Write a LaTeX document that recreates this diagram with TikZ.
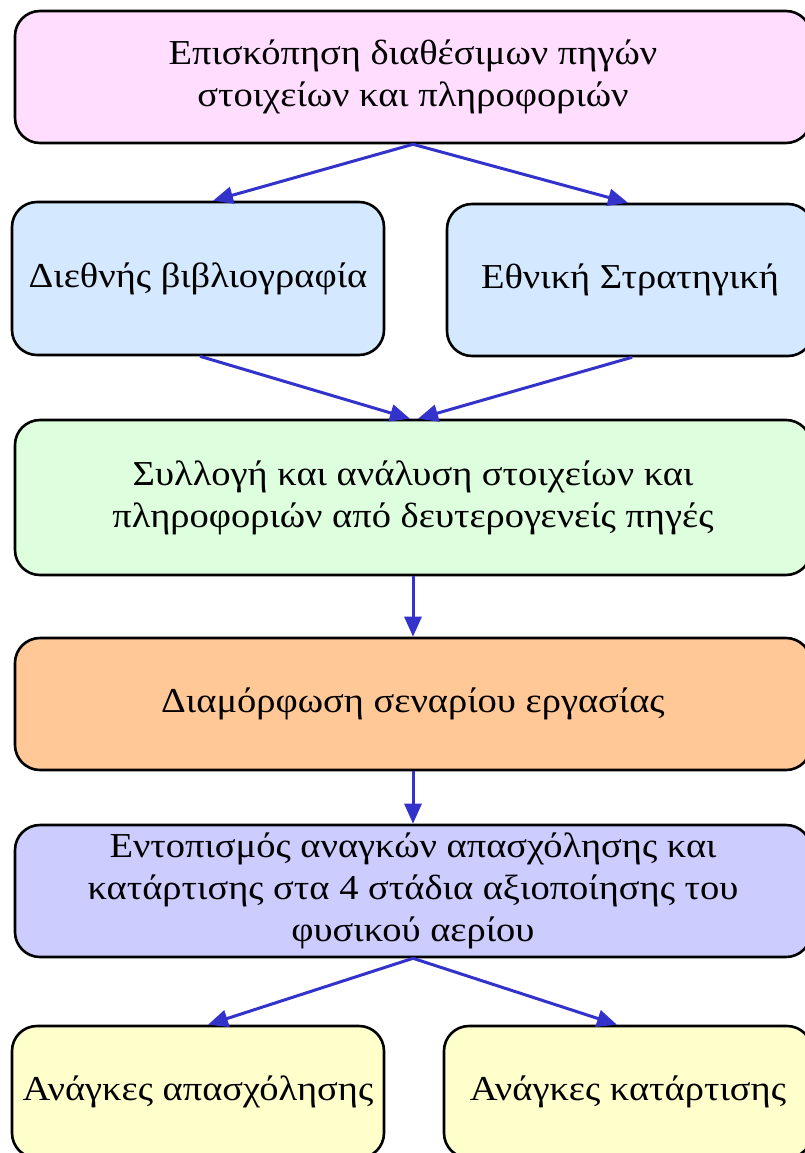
\documentclass[tikz,border=0pt]{standalone}
\usepackage{fontspec}
\setmainfont[FakeStretch=1.1]{Liberation Serif}
\usetikzlibrary{arrows.meta}
\definecolor{cpink}{HTML}{FFDDFF}
\definecolor{cblue}{HTML}{D4E8FF}
\definecolor{cgreen}{HTML}{DDFFDD}
\definecolor{corange}{HTML}{FFC896}
\definecolor{cpurple}{HTML}{CCCCFF}
\definecolor{cyellow}{HTML}{FFFFCC}
\definecolor{carrow}{HTML}{3333CC}
\tikzset{
  box/.style={draw=black, line width=2.6pt, rounded corners=25pt, align=center,
    font=\fontsize{35}{42}\selectfont, inner sep=0pt},
  conn/.style={draw=carrow, line width=3pt, -{Triangle[length=20pt,width=17pt]}}
}
\begin{document}
\begin{tikzpicture}[x=1pt,y=-1pt]
\useasboundingbox (0,0) rectangle (804,1153);
\node[box, fill=cpink, minimum width=796pt, minimum height=132pt] (top) at (413,77)
  {Επισκόπηση διαθέσιμων πηγών\\στοιχείων και πληροφοριών};
\node[box, fill=cblue, minimum width=372pt, minimum height=153pt] (lb) at (198,278.5)
  {Διεθνής βιβλιογραφία};
\node[box, fill=cblue, minimum width=366pt, minimum height=152pt] (rb) at (630,280)
  {Εθνική Στρατηγική};
\node[box, fill=cgreen, minimum width=796pt, minimum height=155pt] (gr) at (413,497.5)
  {Συλλογή και ανάλυση στοιχείων και\\πληροφοριών από δευτερογενείς πηγές};
\node[box, fill=corange, minimum width=796pt, minimum height=132pt] (or) at (413,704)
  {Διαμόρφωση σεναρίου εργασίας};
\node[box, fill=cpurple, minimum width=796pt, minimum height=132pt] (pu) at (413,891)
  {Εντοπισμός αναγκών απασχόλησης και\\κατάρτισης στα 4 στάδια αξιοποίησης του\\φυσικού αερίου};
\node[box, fill=cyellow, minimum width=372pt, minimum height=132pt] (yl) at (198,1092)
  {Ανάγκες απασχόλησης};
\node[box, fill=cyellow, minimum width=368pt, minimum height=132pt] (yr) at (628,1092)
  {Ανάγκες κατάρτισης};
\draw[conn] (top.south) -- ([xshift=15pt]lb.north);
\draw[conn] (top.south) -- ([xshift=-2pt]rb.north);
\draw[conn] ([xshift=2pt]lb.south) -- ([xshift=-3pt]gr.north);
\draw[conn] ([xshift=2pt]rb.south) -- ([xshift=5pt]gr.north);
\draw[conn] (gr.south) -- (or.north);
\draw[conn] (or.south) -- (pu.north);
\draw[conn] (pu.south) -- ([xshift=10pt]yl.north);
\draw[conn] (pu.south) -- ([xshift=-11pt]yr.north);
\end{tikzpicture}
\end{document}
